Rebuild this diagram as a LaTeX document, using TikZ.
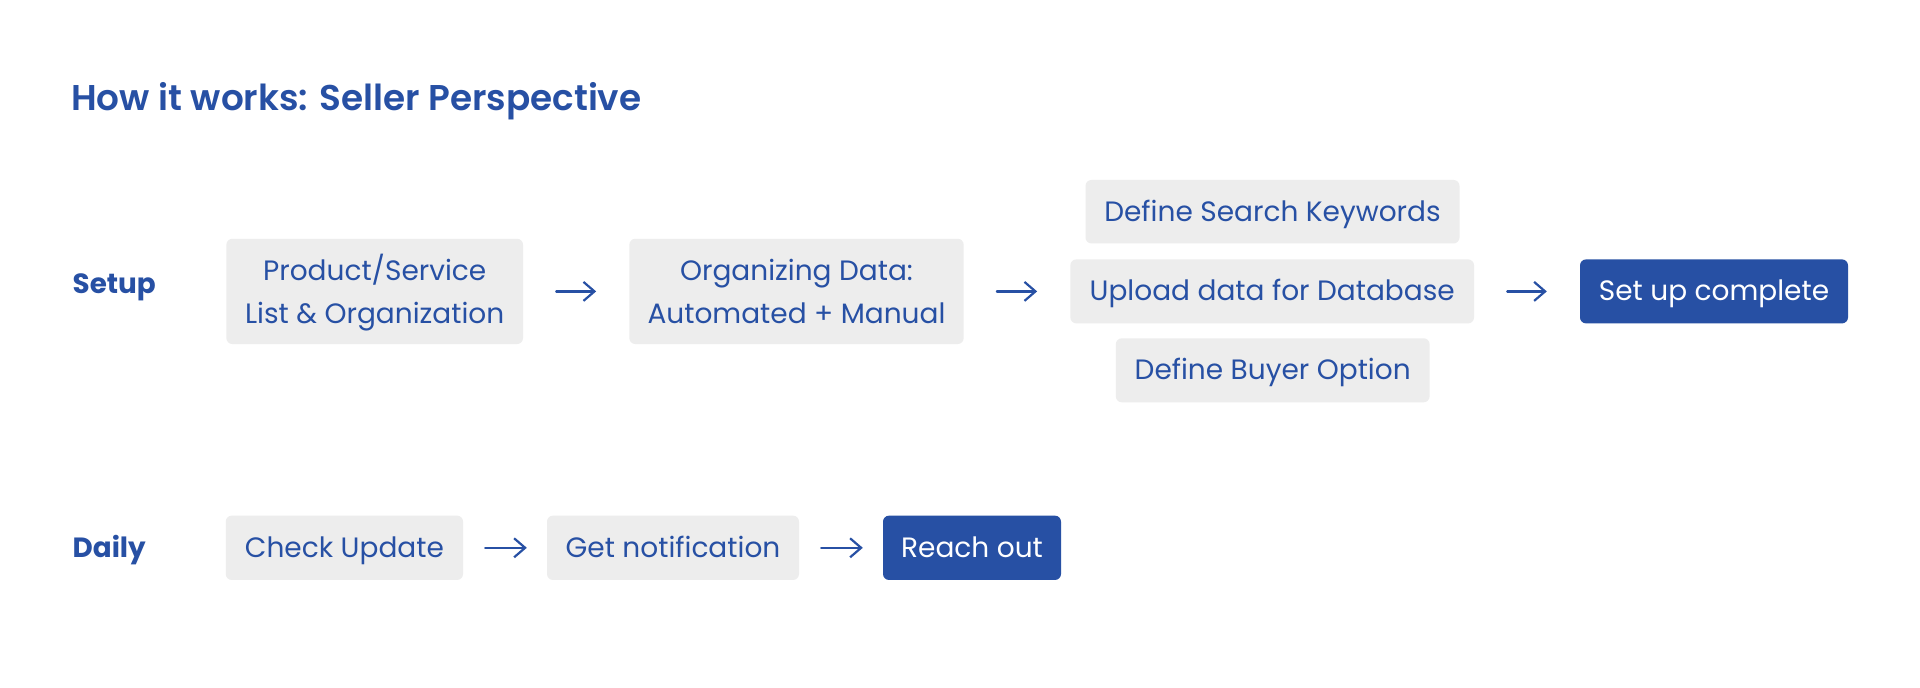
\documentclass[tikz,border=0pt]{standalone}
\usepackage{fontspec}
\setmainfont{Poppins}
\newfontfamily\semib{Poppins SemiBold}
\usetikzlibrary{arrows.meta}
\definecolor{brand}{HTML}{2750A4}
\definecolor{boxgray}{HTML}{EDEDED}
\tikzset{
  graybox/.style={fill=boxgray, text=brand, rounded corners=6pt, inner sep=0pt,
    font=\fontsize{28}{42.6}\selectfont, text height=18.8pt, text depth=0pt},
  bluebox/.style={graybox, fill=brand, text=white},
  twoline/.style={align=center, text height=63.8pt, text depth=0pt},
  rowlabel/.style={anchor=base west, inner sep=0pt, text=brand, font=\fontsize{27.8}{34}\selectfont\bfseries},
  flow/.style={draw=brand, line width=2.2pt, line cap=round, line join=round,
    -{Straight Barb[length=11pt,width=19pt,line width=2.2pt]}},
  setupflow/.style={flow, shorten <=33pt, shorten >=33pt},
  dailyflow/.style={flow, shorten <=22pt, shorten >=20pt}
}
\begin{document}
\begin{tikzpicture}[x=1pt,y=-1pt]
\fill[white] (0,0) rectangle (1920,688);
\useasboundingbox (0,0) rectangle (1920,688);

\node[anchor=base west, inner sep=0pt, text=brand, font=\fontsize{35.8}{42}\selectfont\semib] (title) at (71,110) {How it works: Seller Perspective};

\node[rowlabel] (setup) at (72.5,293.3) {Setup};
\node[rowlabel] (daily) at (72.5,557.3) {Daily};

% Setup row
\node[graybox, twoline, minimum width=296.6pt, minimum height=105.3pt] (b1) at (374.7,291.4) {Product/Service\\List \& Organization};
\node[graybox, twoline, minimum width=334.3pt, minimum height=105.3pt] (b2) at (796.5,291.4) {Organizing Data:\\Automated + Manual};
\node[graybox, minimum width=374pt, minimum height=63.5pt] (dsk) at (1272.5,211.7) {Define Search Keywords};
\node[graybox, minimum width=403.7pt, minimum height=64pt] (up) at (1272.2,291.4) {Upload data for Database};
\node[graybox, minimum width=313.8pt, minimum height=64pt] (dbo) at (1272.7,370.3) {Define Buyer Option};
\node[bluebox, minimum width=268pt, minimum height=64pt] (suc) at (1714,291.4) {Set up complete};

\draw[setupflow] (b1) -- (b2);
\draw[setupflow] (b2) -- (up);
\draw[setupflow] (up) -- (suc);

% Daily row
\node[graybox, minimum width=237.3pt, minimum height=64.3pt] (cu) at (344.4,547.8) {Check Update};
\node[graybox, minimum width=252pt, minimum height=64.3pt] (gn) at (673,547.8) {Get notification};
\node[bluebox, minimum width=178pt, minimum height=64.3pt] (ro) at (972,547.8) {Reach out};

\draw[dailyflow] (cu) -- (gn);
\draw[dailyflow] (gn) -- (ro);
\end{tikzpicture}
\end{document}
